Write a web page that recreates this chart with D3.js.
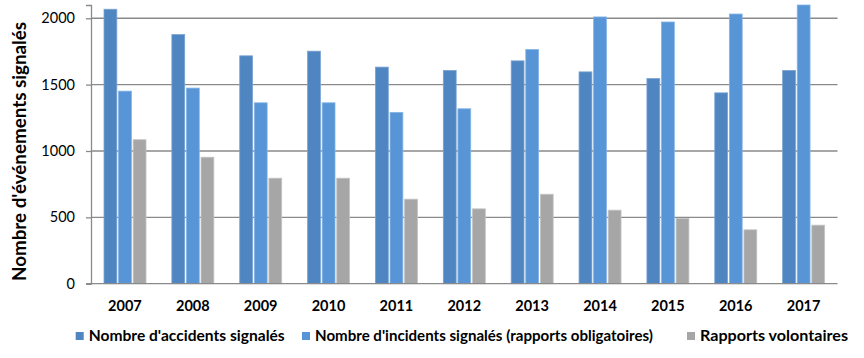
<!DOCTYPE html>
<html><head><meta charset="utf-8">
<script src="https://cdn.jsdelivr.net/npm/d3@7"></script>
<style>
body{margin:0;background:#fff;}
svg{display:block;font-family:Lato,"Open Sans",sans-serif;}
</style></head>
<body><svg id="c" width="864" height="358"></svg>
<script>
const years = ["2007","2008","2009","2010","2011","2012","2013","2014","2015","2016","2017"];
const seriesNames = ["Nombre d'accidents signalés","Nombre d'incidents signalés (rapports obligatoires)","Rapports volontaires"];
const accidents = [2068,1877,1717,1752,1632,1607,1679,1596,1546,1438,1607];
const incidents = [1451,1474,1363,1363,1291,1318,1765,2010,1972,2032,2100];
const volontaires = [1085,953,795,795,637,564,674,554,491,406,441];
const yTicks = [0,500,1000,1500,2000];
const colors = ["#4f85c0","#5795d6","#a6a6a6"];
const strokes = ["#7aa3d3","#86b4e6","#c4c4c4"];

const svg = d3.select("#c");
const data = years.map((y,i)=>({year:y, vals:[accidents[i],incidents[i],volontaires[i]]}));

const x0 = d3.scaleBand().domain(years).range([91,837.5]).padding(0);
const x1 = d3.scaleBand().domain([0,1,2]).range([13,55]).paddingInner(0.12);
const y = d3.scaleLinear().domain([0,2100]).range([283.7,5]);

// gridlines
svg.append("g").selectAll("line").data(yTicks.filter(t=>t>0)).join("line")
  .attr("x1",91).attr("x2",837.5).attr("y1",d=>y(d)).attr("y2",d=>y(d))
  .attr("stroke","#8a8a8a").attr("stroke-width",1.3);

// y axis
const yAxis = svg.append("g").attr("transform","translate(91,0)")
  .call(d3.axisLeft(y).tickValues(yTicks).tickSize(5).tickPadding(11).tickFormat(d3.format("d")));
yAxis.select(".domain").attr("stroke","#8a8a8a").attr("stroke-width",1.3);
yAxis.selectAll(".tick line").attr("stroke","#8a8a8a").attr("stroke-width",1.3);
yAxis.selectAll("text").attr("font-size",14.5).attr("fill","#000").attr("font-family","Lato,sans-serif");

// bars
const g = svg.append("g").selectAll("g").data(data).join("g")
  .attr("transform",d=>`translate(${x0(d.year)},0)`);
g.selectAll("rect").data(d=>d.vals.map((v,k)=>({v,k}))).join("rect")
  .attr("x",d=>x1(d.k)).attr("width",x1.bandwidth())
  .attr("y",d=>y(d.v)).attr("height",d=>y(0)-y(d.v))
  .attr("fill",d=>colors[d.k]).attr("stroke",d=>strokes[d.k]).attr("stroke-width",0.8);

// x axis baseline
svg.append("line").attr("x1",86).attr("x2",837.5).attr("y1",y(0)).attr("y2",y(0))
  .attr("stroke","#8a8a8a").attr("stroke-width",1.3);

// x labels
svg.append("g").selectAll("text").data(years).join("text")
  .attr("x",d=>x0(d)+x0.bandwidth()/2).attr("y",310.5)
  .attr("text-anchor","middle").attr("font-size",14.5).attr("font-weight","bold")
  .attr("fill","#000").text(d=>d);

// y title
svg.append("text").attr("transform","translate(26,151.5) rotate(-90)")
  .attr("text-anchor","middle").attr("font-size",18).attr("font-weight","bold")
  .attr("textLength",259).attr("lengthAdjust","spacingAndGlyphs")
  .attr("fill","#000").text("Nombre d'événements signalés");

// legend
const legX = [75.7,302,687];
const legW = [196,338,148];
const leg = svg.append("g").selectAll("g").data(seriesNames).join("g");
leg.append("rect").attr("x",(d,i)=>legX[i]).attr("y",332).attr("width",8).attr("height",8)
  .attr("fill",(d,i)=>colors[i]);
leg.append("text").attr("x",(d,i)=>legX[i]+13).attr("y",341)
  .attr("font-size",15.5).attr("font-weight","bold").attr("fill","#000")
  .attr("textLength",(d,i)=>legW[i]).attr("lengthAdjust","spacingAndGlyphs")
  .text(d=>d);
</script></body></html>
